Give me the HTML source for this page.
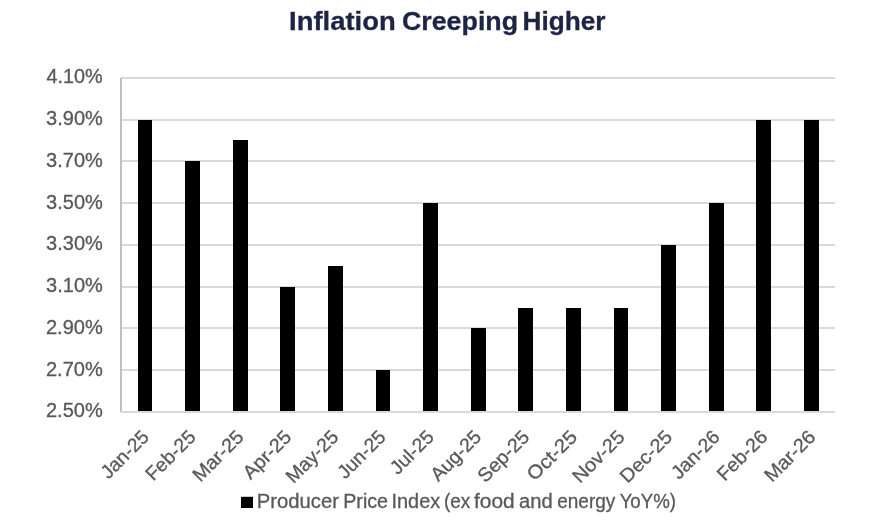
<!DOCTYPE html>
<html lang="en">
<head>
<meta charset="utf-8">
<title>Inflation Creeping Higher</title>
<style>
html,body{margin:0;padding:0;background:#fff;}
body{width:884px;height:531px;overflow:hidden;}
svg{display:block;}
text{font-family:"Liberation Sans",sans-serif;}
.t{font-weight:bold;font-size:25.6px;fill:#1d2545;stroke:#1d2545;stroke-width:0.3px;}
.a{font-size:19.2px;fill:#595959;stroke:#595959;stroke-width:0.3px;}
.y{font-size:19.3px;fill:#595959;stroke:#595959;stroke-width:0.3px;}
.l{font-size:19.4px;fill:#595959;stroke:#595959;stroke-width:0.3px;}
</style>
</head>
<body>
<svg width="884" height="531" viewBox="0 0 884 531">
<rect x="0" y="0" width="884" height="531" fill="#ffffff"/>
<text class="t" y="30"><tspan x="289.13" textLength="106.62" lengthAdjust="spacingAndGlyphs">Inflation</tspan> <tspan x="401.94" textLength="116.14" lengthAdjust="spacingAndGlyphs">Creeping</tspan> <tspan x="522.57" textLength="82.99" lengthAdjust="spacingAndGlyphs">Higher</tspan></text>
<rect x="121.0" y="77" width="714.0" height="2" fill="#d9d9d9"/>
<rect x="121.0" y="119" width="714.0" height="2" fill="#d9d9d9"/>
<rect x="121.0" y="160" width="714.0" height="2" fill="#d9d9d9"/>
<rect x="121.0" y="202" width="714.0" height="2" fill="#d9d9d9"/>
<rect x="121.0" y="244" width="714.0" height="2" fill="#d9d9d9"/>
<rect x="121.0" y="286" width="714.0" height="2" fill="#d9d9d9"/>
<rect x="121.0" y="327" width="714.0" height="2" fill="#d9d9d9"/>
<rect x="121.0" y="369" width="714.0" height="2" fill="#d9d9d9"/>
<rect x="138" y="120" width="14" height="292" fill="#000000"/>
<rect x="185" y="161" width="15" height="251" fill="#000000"/>
<rect x="233" y="140" width="15" height="272" fill="#000000"/>
<rect x="280" y="287" width="15" height="125" fill="#000000"/>
<rect x="328" y="266" width="15" height="146" fill="#000000"/>
<rect x="376" y="370" width="14" height="42" fill="#000000"/>
<rect x="423" y="203" width="15" height="209" fill="#000000"/>
<rect x="471" y="328" width="15" height="84" fill="#000000"/>
<rect x="518" y="308" width="15" height="104" fill="#000000"/>
<rect x="566" y="308" width="15" height="104" fill="#000000"/>
<rect x="614" y="308" width="14" height="104" fill="#000000"/>
<rect x="661" y="245" width="15" height="167" fill="#000000"/>
<rect x="709" y="203" width="15" height="209" fill="#000000"/>
<rect x="756" y="120" width="15" height="292" fill="#000000"/>
<rect x="804" y="120" width="15" height="292" fill="#000000"/>
<rect x="120.0" y="78.0" width="2" height="334.0" fill="#bfbfbf"/>
<rect x="121.0" y="411.0" width="714.0" height="2" fill="#d9d9d9"/>
<text class="y" x="46.46" y="83.40" textLength="56.22" lengthAdjust="spacingAndGlyphs">4.10%</text>
<text class="y" x="46.11" y="125.15" textLength="56.71" lengthAdjust="spacingAndGlyphs">3.90%</text>
<text class="y" x="46.11" y="166.90" textLength="56.71" lengthAdjust="spacingAndGlyphs">3.70%</text>
<text class="y" x="46.11" y="208.65" textLength="56.71" lengthAdjust="spacingAndGlyphs">3.50%</text>
<text class="y" x="46.11" y="250.40" textLength="56.71" lengthAdjust="spacingAndGlyphs">3.30%</text>
<text class="y" x="46.11" y="292.15" textLength="56.71" lengthAdjust="spacingAndGlyphs">3.10%</text>
<text class="y" x="45.92" y="333.90" textLength="56.87" lengthAdjust="spacingAndGlyphs">2.90%</text>
<text class="y" x="45.92" y="375.65" textLength="56.87" lengthAdjust="spacingAndGlyphs">2.70%</text>
<text class="y" x="45.92" y="417.40" textLength="56.87" lengthAdjust="spacingAndGlyphs">2.50%</text>
<text class="a" text-anchor="end" textLength="59.0" lengthAdjust="spacingAndGlyphs" transform="translate(150.1,438.1) rotate(-45)">Jan-25</text>
<text class="a" text-anchor="end" textLength="61.9" lengthAdjust="spacingAndGlyphs" transform="translate(196.9,438.1) rotate(-45)">Feb-25</text>
<text class="a" text-anchor="end" textLength="63.1" lengthAdjust="spacingAndGlyphs" transform="translate(244.9,438.1) rotate(-45)">Mar-25</text>
<text class="a" text-anchor="end" textLength="59.6" lengthAdjust="spacingAndGlyphs" transform="translate(292.6,438.1) rotate(-45)">Apr-25</text>
<text class="a" text-anchor="end" textLength="65.3" lengthAdjust="spacingAndGlyphs" transform="translate(339.6,438.1) rotate(-45)">May-25</text>
<text class="a" text-anchor="end" textLength="59.0" lengthAdjust="spacingAndGlyphs" transform="translate(386.9,438.1) rotate(-45)">Jun-25</text>
<text class="a" text-anchor="end" textLength="52.8" lengthAdjust="spacingAndGlyphs" transform="translate(435.0,438.1) rotate(-45)">Jul-25</text>
<text class="a" text-anchor="end" textLength="62.6" lengthAdjust="spacingAndGlyphs" transform="translate(482.5,438.1) rotate(-45)">Aug-25</text>
<text class="a" text-anchor="end" textLength="64.1" lengthAdjust="spacingAndGlyphs" transform="translate(530.6,438.1) rotate(-45)">Sep-25</text>
<text class="a" text-anchor="end" textLength="61.8" lengthAdjust="spacingAndGlyphs" transform="translate(578.3,438.1) rotate(-45)">Oct-25</text>
<text class="a" text-anchor="end" textLength="64.9" lengthAdjust="spacingAndGlyphs" transform="translate(625.9,438.1) rotate(-45)">Nov-25</text>
<text class="a" text-anchor="end" textLength="64.9" lengthAdjust="spacingAndGlyphs" transform="translate(673.5,438.1) rotate(-45)">Dec-25</text>
<text class="a" text-anchor="end" textLength="59.5" lengthAdjust="spacingAndGlyphs" transform="translate(721.0,438.1) rotate(-45)">Jan-26</text>
<text class="a" text-anchor="end" textLength="62.2" lengthAdjust="spacingAndGlyphs" transform="translate(768.6,438.1) rotate(-45)">Feb-26</text>
<text class="a" text-anchor="end" textLength="63.4" lengthAdjust="spacingAndGlyphs" transform="translate(816.7,438.1) rotate(-45)">Mar-26</text>
<rect x="241" y="496.8" width="12" height="11.2" fill="#000000"/>
<text class="l" y="507.9"><tspan x="256.84" textLength="82.1" lengthAdjust="spacingAndGlyphs">Producer</tspan> <tspan x="343.21" textLength="44.84" lengthAdjust="spacingAndGlyphs">Price</tspan> <tspan x="391.55" textLength="48.61" lengthAdjust="spacingAndGlyphs">Index</tspan> <tspan x="444.01" textLength="26.32" lengthAdjust="spacingAndGlyphs">(ex</tspan> <tspan x="474.02" textLength="40.67" lengthAdjust="spacingAndGlyphs">food</tspan> <tspan x="519.12" textLength="33.64" lengthAdjust="spacingAndGlyphs">and</tspan> <tspan x="557.23" textLength="58.13" lengthAdjust="spacingAndGlyphs">energy</tspan> <tspan x="619.63" textLength="56.36" lengthAdjust="spacingAndGlyphs">YoY%)</tspan></text>
</svg>
</body>
</html>
